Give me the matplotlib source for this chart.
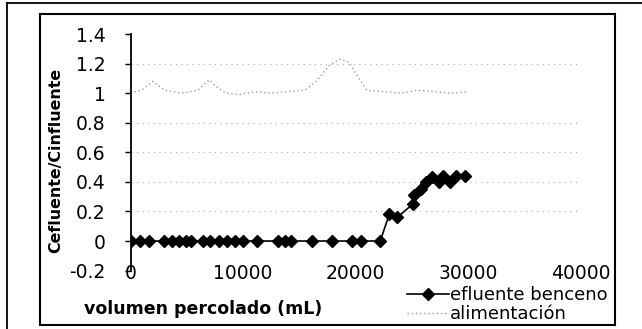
import matplotlib.pyplot as plt
from matplotlib.lines import Line2D

# efluente benceno (mL, C/C0)
vol_ef = [0, 800, 1600, 3000, 3700, 4300, 4900, 5400, 6400, 7100, 7900, 8600,
          9300, 10000, 11200, 13100, 13700, 14300, 16100, 17900, 19700, 20500,
          22200, 23000, 23700, 25100, 25200, 25800, 26300, 26800, 27400, 27800,
          28400, 28900, 29700]
c_ef = [0, 0, 0, 0, 0, 0, 0, 0, 0, 0, 0, 0,
        0, 0, 0, 0, 0, 0, 0, 0, 0, 0,
        0, 0.18, 0.16, 0.25, 0.31, 0.35, 0.40, 0.43, 0.40, 0.44,
        0.40, 0.44, 0.44]

# alimentacion
vol_al = [0, 1000, 2000, 3000, 4500, 6000, 7000, 7500, 8500, 9700, 11000, 12500,
          14000, 15500, 16500, 17700, 18600, 19400, 20300, 21000, 22500, 24000,
          25500, 27000, 28500, 30000]
c_al = [1.0, 1.02, 1.08, 1.02, 1.0, 1.02, 1.09, 1.05, 1.0, 0.99, 1.01, 1.0,
        1.01, 1.02, 1.08, 1.19, 1.23, 1.21, 1.1, 1.02, 1.01, 1.0,
        1.02, 1.01, 1.0, 1.01]

xticks = [0, 10000, 20000, 30000, 40000]
yticks = [-0.2, 0, 0.2, 0.4, 0.6, 0.8, 1, 1.2, 1.4]
ytick_labels = ['-0.2', '0', '0.2', '0.4', '0.6', '0.8', '1', '1.2', '1.4']

plt.rcParams['font.family'] = 'DejaVu Sans'
fig = plt.figure(figsize=(6.42, 3.29), dpi=100)
ax = fig.add_axes([130.5/642, 1-270.6/329, 450/642, 236.6/329])

# marcos del grafico
fig.add_artist(Line2D([7/642, 7/642], [0, 1-3/329], color='k', lw=1.3))
fig.add_artist(Line2D([7/642, 1], [1-3/329, 1-3/329], color='k', lw=1.3))
fig.add_artist(plt.Rectangle((40/642, 1-325/329), 575/642, 311/329,
                             fill=False, ec='k', lw=1.5))

for g in [0.2, 0.4, 0.6, 0.8, 1.2]:
    ax.axhline(g, color='#aaaaaa', lw=0.8, ls=(0, (1, 4)), zorder=0)

ax.plot(vol_al, c_al, color='#999999', lw=1.0, ls=(0, (1, 2)),
        label='alimentación')
ax.plot(vol_ef, c_ef, color='k', lw=1.2, marker='D', ms=6,
        label='efluente benceno')

ax.set_xlim(0, 40000)
ax.set_ylim(-0.2, 1.4)
ax.set_xticks(xticks)
ax.set_yticks(yticks)
ax.set_yticklabels(ytick_labels)
for s in ['top', 'right', 'bottom']:
    ax.spines[s].set_visible(False)
ax.spines['left'].set_linewidth(1.3)
ax.tick_params(axis='x', length=0, pad=-5, labelsize=13.5)
ax.tick_params(axis='y', length=4, width=1, pad=14, labelsize=13.5)

fig.text(56/642, 1-160/329, 'Cefluente/Cinfluente', rotation=90,
         ha='center', va='center', fontsize=11.4, fontweight='bold')
fig.text(203/642, 1-309/329, 'volumen percolado (mL)', ha='center',
         va='center', fontsize=12.5, fontweight='bold')

h, l = ax.get_legend_handles_labels()
fig.legend(h[::-1], l[::-1], loc='upper left',
           bbox_to_anchor=(398/642, 1-277/329), frameon=False, fontsize=13,
           handlelength=2.3, handletextpad=0.1, labelspacing=0.05,
           borderpad=0)

fig.savefig('out.png', dpi=100)
